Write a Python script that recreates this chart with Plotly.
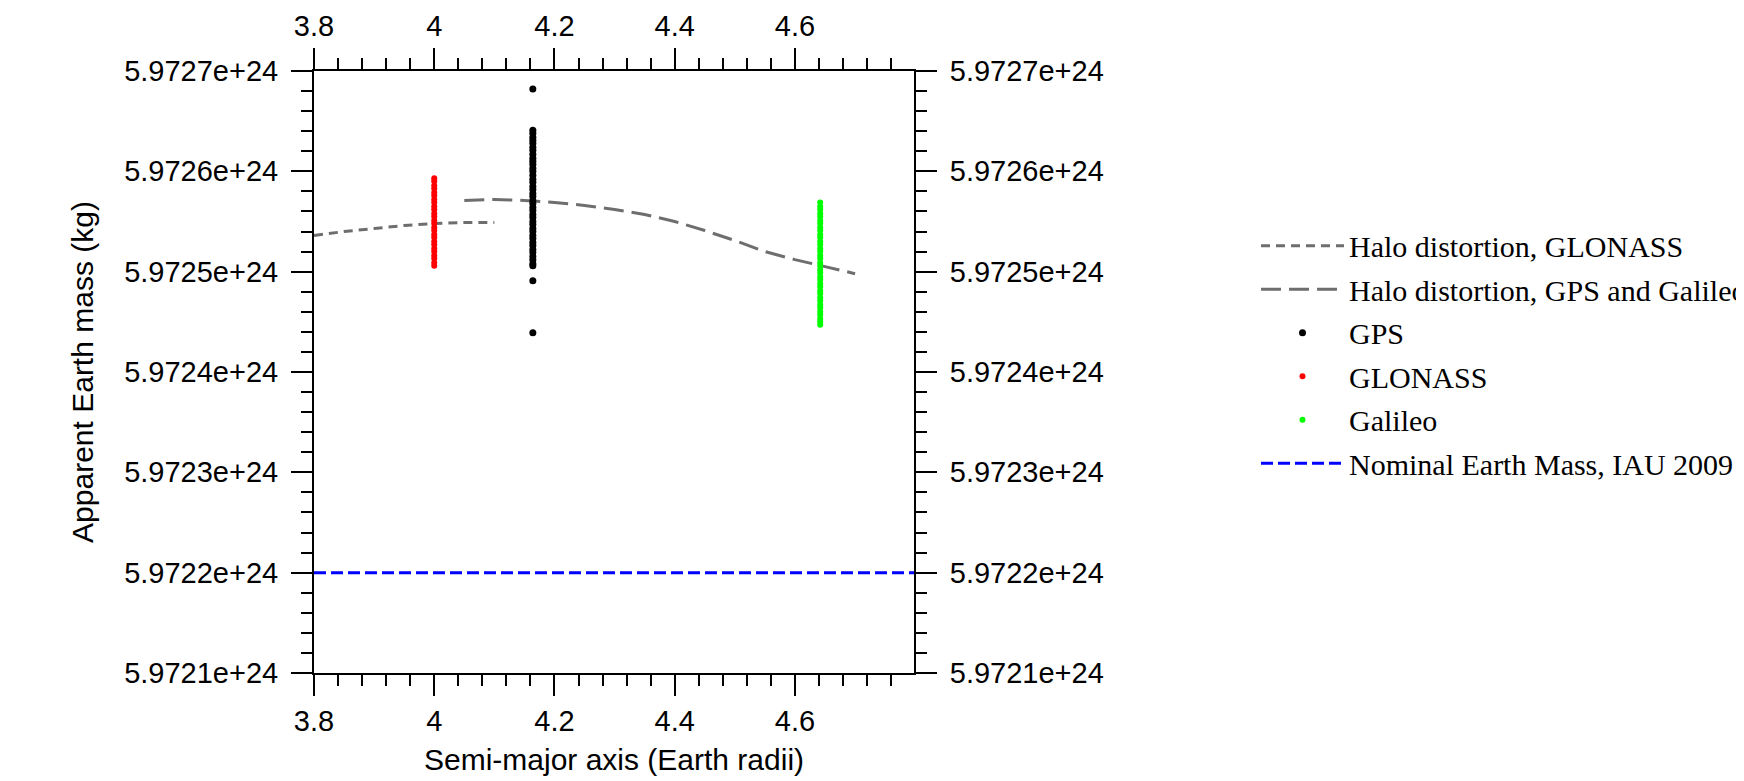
import plotly.graph_objects as go

# ---------------- data ----------------
# semi-major axes (Earth radii)
gps_a = 4.164
glonass_a = 4.0
galileo_a = 4.642

# apparent Earth mass, in units of 1e24 kg
gps_mass = [5.972682, 5.972641, 5.972638, 5.972634, 5.972631, 5.972628, 5.972624,
            5.972621, 5.972617, 5.972613, 5.972610, 5.972607, 5.972603, 5.972600,
            5.972596, 5.972592, 5.972589, 5.972585, 5.972582, 5.972578, 5.972575,
            5.972571, 5.972568, 5.972564, 5.972561, 5.972557, 5.972554, 5.972550,
            5.972547, 5.972543, 5.972540, 5.972536, 5.972533, 5.972529, 5.972526,
            5.972522, 5.972519, 5.972515, 5.972512, 5.972508, 5.972506, 5.972491,
            5.972439]
glonass_mass = [5.972593, 5.972590, 5.972586, 5.972583, 5.972579, 5.972576, 5.972572,
                5.972569, 5.972565, 5.972562, 5.972558, 5.972555, 5.972551, 5.972548,
                5.972544, 5.972541, 5.972537, 5.972534, 5.972530, 5.972527, 5.972523,
                5.972520, 5.972516, 5.972513, 5.972509, 5.972506]
galileo_mass = [5.972569, 5.972565, 5.972562, 5.972558, 5.972555, 5.972551, 5.972548,
                5.972544, 5.972541, 5.972537, 5.972534, 5.972530, 5.972527, 5.972523,
                5.972520, 5.972516, 5.972513, 5.972509, 5.972506, 5.972502, 5.972499,
                5.972495, 5.972492, 5.972488, 5.972485, 5.972481, 5.972478, 5.972474,
                5.972471, 5.972467, 5.972464, 5.972460, 5.972457, 5.972453, 5.972450,
                5.972447]

halo_glonass_a = [3.80, 3.85, 3.90, 3.95, 4.00, 4.05, 4.10]
halo_glonass_mass = [5.972536, 5.972540, 5.972543, 5.972546, 5.972548, 5.972549, 5.972549]

halo_gps_gal_a = [4.05, 4.10, 4.15, 4.20, 4.25, 4.30, 4.35, 4.40, 4.45, 4.50,
                  4.55, 4.60, 4.65, 4.70]
halo_gps_gal_mass = [5.972571, 5.972572, 5.972571, 5.972569, 5.972566, 5.972562,
                     5.972557, 5.972550, 5.972541, 5.972531, 5.972520, 5.972512,
                     5.972505, 5.972498]

nominal_a = [3.8, 4.8]
nominal_mass = [5.9722, 5.9722]

x_tickvals = [3.8, 4.0, 4.2, 4.4, 4.6]
x_ticktext = ["3.8", "4", "4.2", "4.4", "4.6"]
y_tickvals_1e24 = [5.9721, 5.9722, 5.9723, 5.9724, 5.9725, 5.9726, 5.9727]
y_ticktext = ["5.9721e+24", "5.9722e+24", "5.9723e+24", "5.9724e+24",
              "5.9725e+24", "5.9726e+24", "5.9727e+24"]

names = ["Halo distortion, GLONASS", "Halo distortion, GPS and Galileo",
         "GPS", "GLONASS", "Galileo", "Nominal Earth Mass, IAU 2009"]

E24 = 1e24
def kg(v):
    return [m * E24 for m in v]

X_RANGE = [3.8, 4.798]
Y_RANGE = [5.9721 * E24, 5.9727 * E24]

GRAY = "#6e6e6e"
SANS = "Liberation Sans, Arial, Helvetica, sans-serif"
SERIF = "Liberation Serif, Times New Roman, serif"

fig = go.Figure()

fig.add_trace(go.Scatter(x=halo_glonass_a, y=kg(halo_glonass_mass), mode="lines",
                         name=names[0], legendgroup="g0",
                         line=dict(color=GRAY, width=3, dash="9px,6px")))
fig.add_trace(go.Scatter(x=halo_gps_gal_a, y=kg(halo_gps_gal_mass), mode="lines",
                         name=names[1], legendgroup="g1",
                         line=dict(color=GRAY, width=3, dash="20px,8px")))
fig.add_trace(go.Scatter(x=[gps_a] * len(gps_mass), y=kg(gps_mass), mode="markers",
                         name=names[2], legendgroup="g2",
                         marker=dict(color="black", size=7, line=dict(width=0))))
fig.add_trace(go.Scatter(x=[glonass_a] * len(glonass_mass), y=kg(glonass_mass),
                         mode="markers", name=names[3], legendgroup="g3",
                         marker=dict(color="#ff0000", size=6, line=dict(width=0))))
fig.add_trace(go.Scatter(x=[galileo_a] * len(galileo_mass), y=kg(galileo_mass),
                         mode="markers", name=names[4], legendgroup="g4",
                         marker=dict(color="#00ff00", size=6, line=dict(width=0))))
fig.add_trace(go.Scatter(x=nominal_a, y=kg(nominal_mass), mode="lines",
                         name=names[5], legendgroup="g5",
                         line=dict(color="#0000ff", width=3, dash="12px,5px")))
# invisible trace that carries the mirrored (top / right) axes
fig.add_trace(go.Scatter(x=nominal_a, y=kg(nominal_mass), mode="lines",
                         xaxis="x2", yaxis="y2", showlegend=False, hoverinfo="skip",
                         opacity=0, line=dict(width=0)))

tickfont = dict(family=SANS, size=29, color="black")
titlefont = dict(family=SANS, size=30, color="black")

xcommon = dict(range=X_RANGE, tickmode="array", tickvals=x_tickvals, ticktext=x_ticktext,
               ticks="outside", ticklen=21, tickwidth=2, tickcolor="black",
               showline=True, linewidth=2, linecolor="black", showgrid=False,
               zeroline=False, tickfont=tickfont,
               minor=dict(tickmode="linear", tick0=3.8, dtick=0.04, ticks="outside",
                          ticklen=11, tickwidth=2, tickcolor="black", showgrid=False))
ycommon = dict(range=Y_RANGE, tickmode="array", tickvals=kg(y_tickvals_1e24),
               ticktext=y_ticktext, ticks="outside", ticklen=21, tickwidth=2,
               tickcolor="black", showline=True, linewidth=2, linecolor="black",
               showgrid=False, zeroline=False, tickfont=tickfont, ticklabelstandoff=7,
               minor=dict(tickmode="linear", tick0=5.9721 * E24, dtick=2e19,
                          ticks="outside", ticklen=11, tickwidth=2, tickcolor="black",
                          showgrid=False))

fig.update_layout(
    width=1744, height=781,
    margin=dict(l=306, r=838, t=63, b=116, autoexpand=False),
    paper_bgcolor="white", plot_bgcolor="white",
    xaxis=dict(**xcommon, side="bottom", anchor="y",
               title=dict(text="Semi-major axis (Earth radii)", font=titlefont, standoff=13)),
    yaxis=dict(**ycommon, side="left", anchor="x",
               title=dict(text="Apparent Earth mass (kg)", font=titlefont, standoff=22)),
    xaxis2=dict(**xcommon, side="top", anchor="y2", overlaying="x"),
    yaxis2=dict(**ycommon, side="right", anchor="x2", overlaying="y"),
    showlegend=True,
    legend=dict(x=1.57, y=0.753, xanchor="left", yanchor="top",
                font=dict(family=SERIF, size=30, color="black"),
                bgcolor="rgba(0,0,0,0)", borderwidth=0,
                itemwidth=83, tracegroupgap=1.5, traceorder="grouped"),
)

fig.write_html("out.html")
